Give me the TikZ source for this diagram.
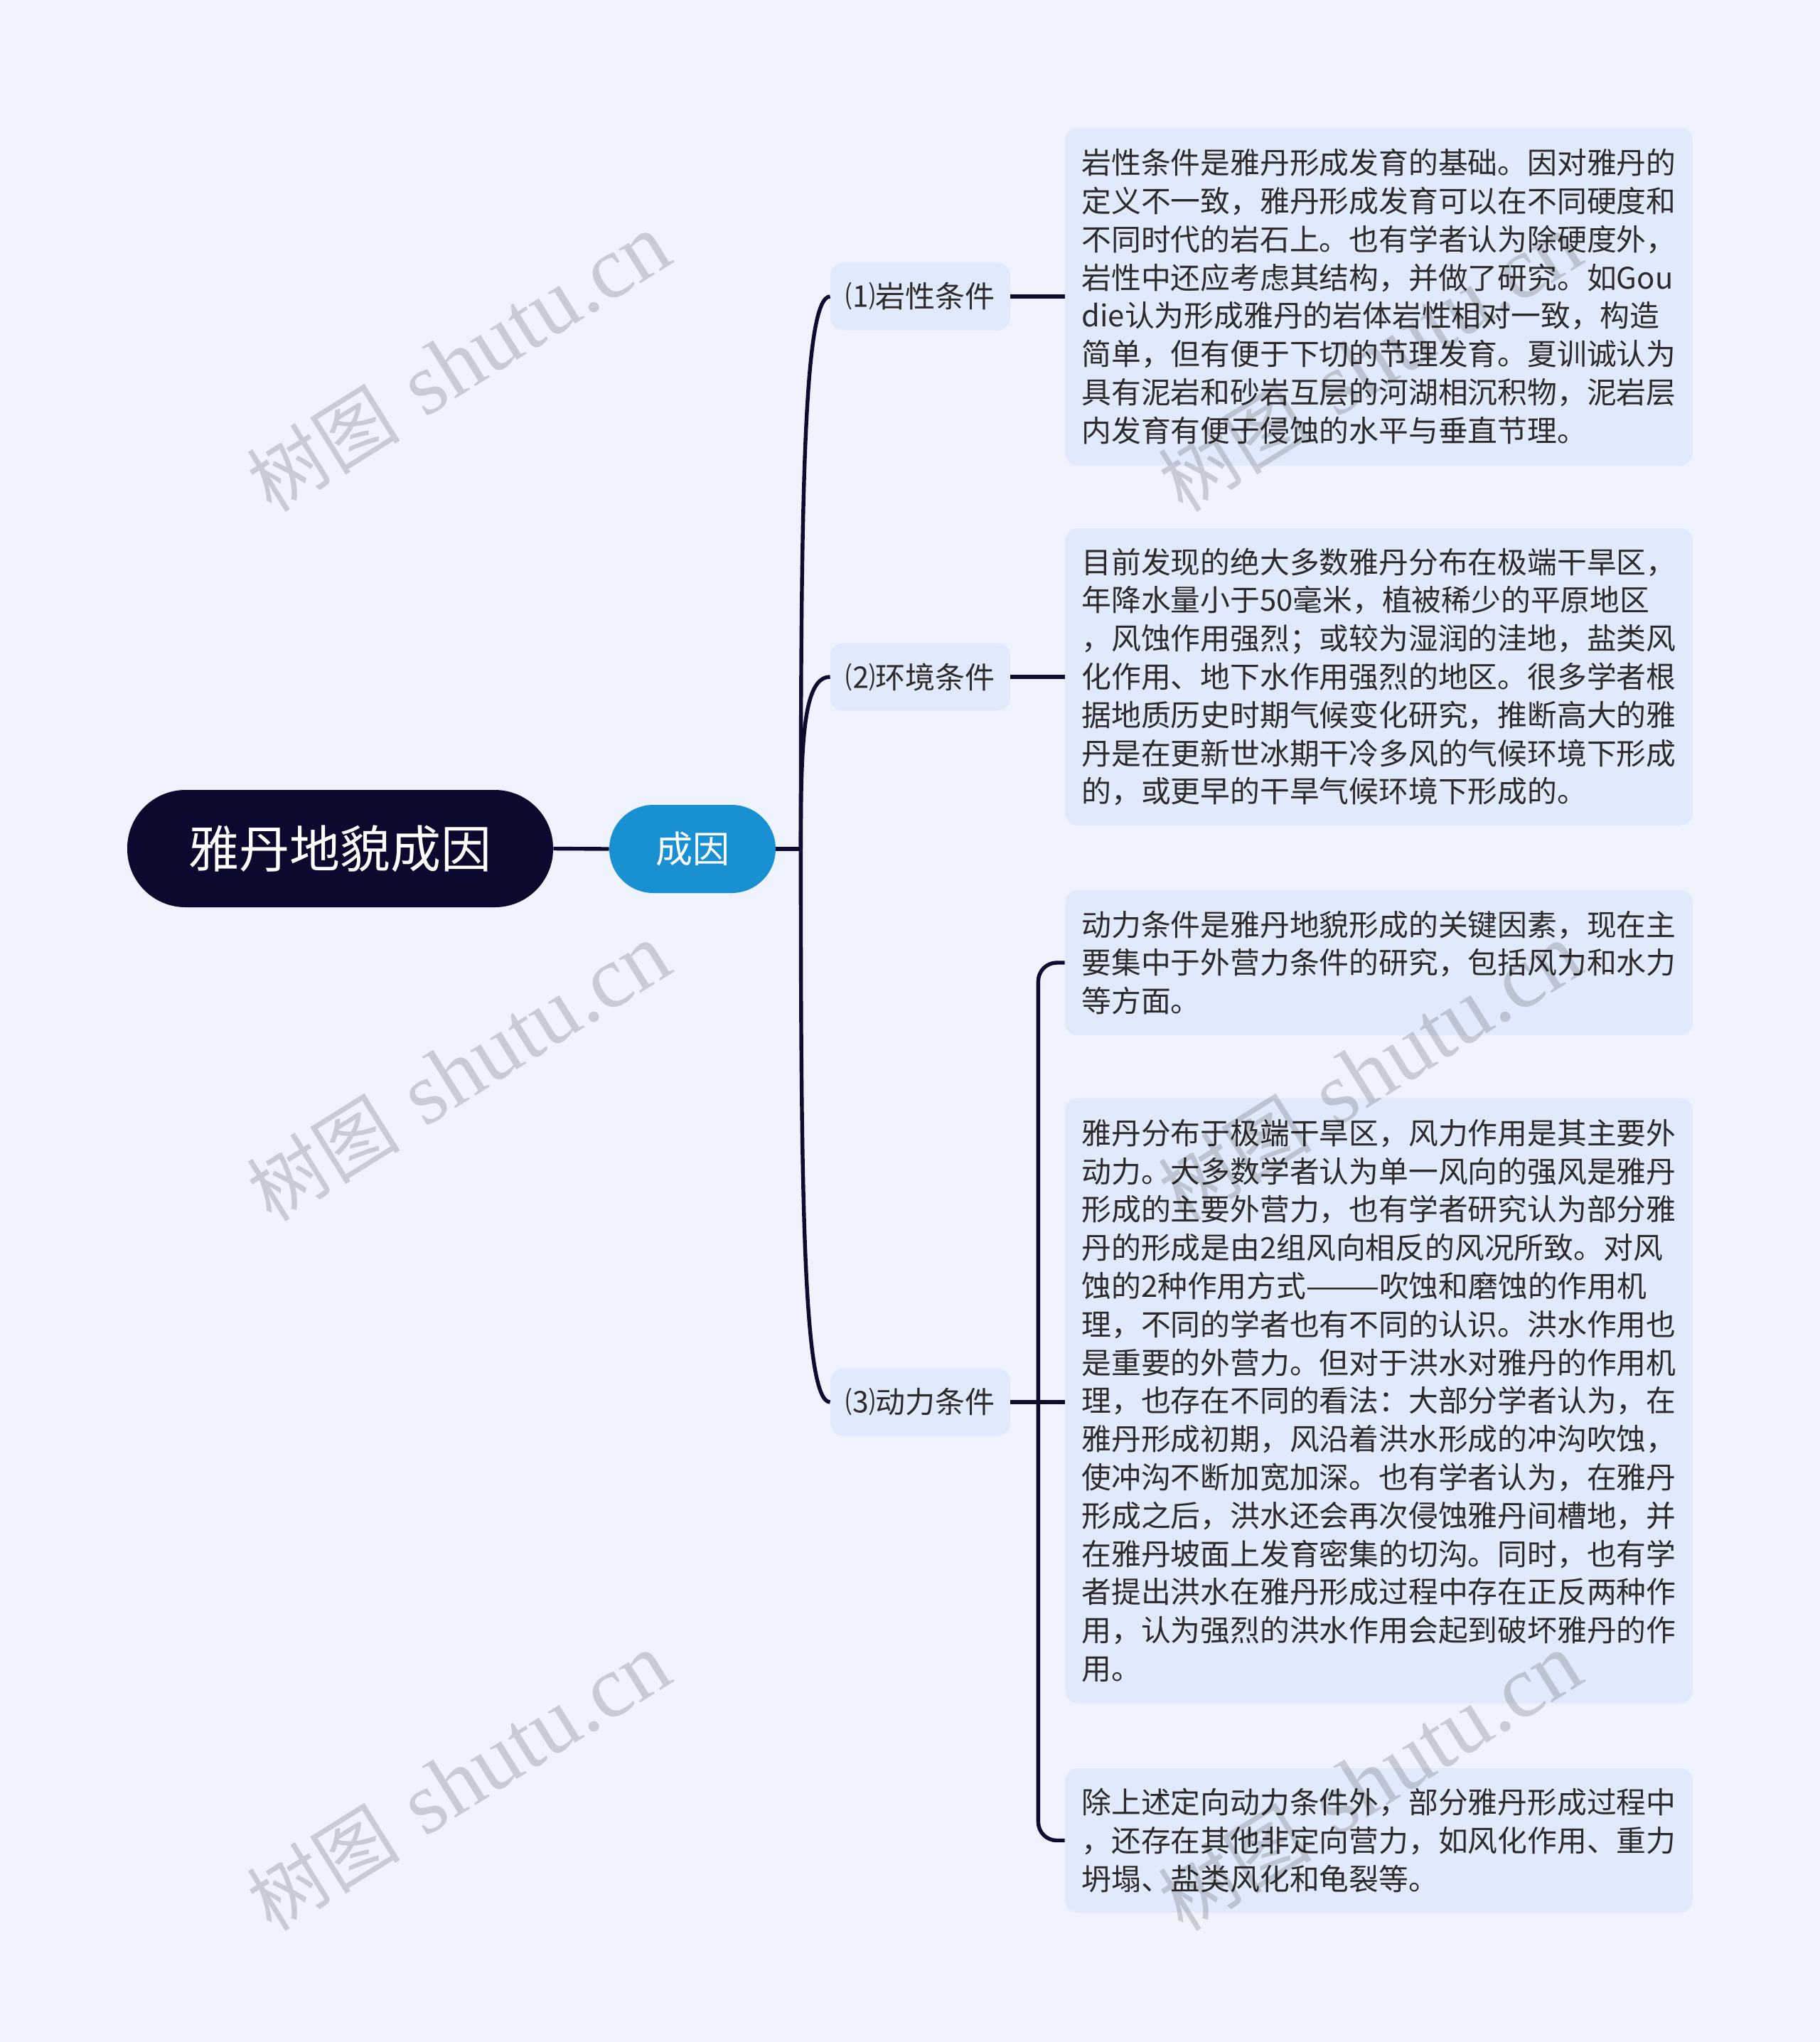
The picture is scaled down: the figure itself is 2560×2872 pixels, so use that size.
\documentclass[tikz,border=0pt]{standalone}
\usepackage{fontspec}
\newfontfamily\cjk{Noto Sans CJK SC}
\newfontfamily\wmserif{Liberation Serif}
\usetikzlibrary{calc}
\definecolor{bgc}{HTML}{EEF3FE}
\definecolor{boxc}{HTML}{E1EAFB}
\definecolor{linec}{HTML}{0E0C2E}
\definecolor{rootc}{HTML}{0B0A2E}
\definecolor{bluec}{HTML}{1890D2}
\definecolor{textc}{HTML}{2B2B2B}
\begin{document}
\begin{tikzpicture}[x=0.5pt,y=-0.5pt,
  rootnode/.style={fill=rootc,text=white,rounded corners=41pt,minimum width=299.5pt,minimum height=82.5pt,inner sep=0pt,font=\cjk\fontsize{35.5}{40}\selectfont},
  midnode/.style={fill=bluec,text=white,rounded corners=31pt,minimum width=117pt,minimum height=62pt,inner sep=0pt,font=\cjk\fontsize{26}{30}\selectfont},
  subnode/.style={fill=boxc,text=textc,rounded corners=9pt,minimum width=126.5pt,minimum height=47.5pt,inner sep=0pt,font=\cjk\fontsize{21}{26}\selectfont},
  leafbox/.style={fill=boxc,text=textc,rounded corners=9pt,minimum width=441.5pt,inner sep=0pt,align=left,font=\cjk\fontsize{20.9}{26.9}\selectfont},
  conn/.style={draw=linec,line width=2.7pt},
  wmark/.style={text=black,text opacity=0.16,rotate=32,inner sep=0pt,font=\fontsize{62}{70}\selectfont}
]
\fill[bgc] (0,0) rectangle (2560,2872);

\node[rootnode] (root) at (478.5,1193.5) {雅丹地貌成因};
\node[midnode] (cy) at (974,1194) {成因};

\node[subnode] (c1) at (1294.5,417) {⑴岩性条件};
\node[subnode] (c2) at (1294.5,952) {⑵环境条件};
\node[subnode] (c3) at (1294.5,1972) {⑶动力条件};

\node[leafbox,minimum height=237.5pt] (b1) at (1939.5,417) {岩性条件是雅丹形成发育的基础。因对雅丹的\\定义不一致，雅丹形成发育可以在不同硬度和\\不同时代的岩石上。也有学者认为除硬度外，\\岩性中还应考虑其结构，并做了研究。如Gou\\die认为形成雅丹的岩体岩性相对一致，构造\\简单，但有便于下切的节理发育。夏训诚认为\\具有泥岩和砂岩互层的河湖相沉积物，泥岩层\\内发育有便于侵蚀的水平与垂直节理。};

\node[leafbox,minimum height=209pt] (b2) at (1939.5,952) {目前发现的绝大多数雅丹分布在极端干旱区，\\年降水量小于50毫米，植被稀少的平原地区\\，风蚀作用强烈；或较为湿润的洼地，盐类风\\化作用、地下水作用强烈的地区。很多学者根\\据地质历史时期气候变化研究，推断高大的雅\\丹是在更新世冰期干冷多风的气候环境下形成\\的，或更早的干旱气候环境下形成的。};

\node[leafbox,minimum height=102pt] (b3a) at (1939.5,1354) {动力条件是雅丹地貌形成的关键因素，现在主\\要集中于外营力条件的研究，包括风力和水力\\等方面。};

\node[leafbox,minimum height=425.5pt] (b3b) at (1939.5,1970) {雅丹分布于极端干旱区，风力作用是其主要外\\动力。大多数学者认为单一风向的强风是雅丹\\形成的主要外营力，也有学者研究认为部分雅\\丹的形成是由2组风向相反的风况所致。对风\\蚀的2种作用方式———吹蚀和磨蚀的作用机\\理，不同的学者也有不同的认识。洪水作用也\\是重要的外营力。但对于洪水对雅丹的作用机\\理，也存在不同的看法：大部分学者认为，在\\雅丹形成初期，风沿着洪水形成的冲沟吹蚀，\\使冲沟不断加宽加深。也有学者认为，在雅丹\\形成之后，洪水还会再次侵蚀雅丹间槽地，并\\在雅丹坡面上发育密集的切沟。同时，也有学\\者提出洪水在雅丹形成过程中存在正反两种作\\用，认为强烈的洪水作用会起到破坏雅丹的作\\用。};

\node[leafbox,minimum height=101.5pt] (b3c) at (1939.5,2588.5) {除上述定向动力条件外，部分雅丹形成过程中\\，还存在其他非定向营力，如风化作用、重力\\坍塌、盐类风化和龟裂等。};

% connectors
\draw[conn] (root.east) -- (cy.west);
\draw[conn] (cy.east) -- ++(35,0) coordinate (hub);
\foreach \c in {c1,c2,c3}{
  \draw[conn] (hub) .. controls ($(hub |- \c.west)!0.36!(hub)$) and ($(hub |- \c.west)+(4,0)$) .. (\c.west);
}
\draw[conn] (c1.east) -- (b1.west);
\draw[conn] (c2.east) -- (b2.west);
\draw[conn] (c3.east) -- ++(39,0) coordinate (hubb);
\draw[conn] (hubb) -- (hubb -| b3b.west);
\draw[conn,rounded corners=13pt] (hubb) |- (b3a.west);
\draw[conn,rounded corners=13pt] (hubb) |- (b3c.west);

% watermarks
\newcommand{\wmtext}{{\cjk\fontsize{54}{60}\selectfont 树图} {\wmserif shutu.cn}}
\node[wmark] (wm1) at (645,510) {\wmtext};
\node[wmark] (wm2) at (645,1508) {\wmtext};
\node[wmark] (wm3) at (645,2506) {\wmtext};
\node[wmark] (wm4) at (1927,510) {\wmtext};
\node[wmark] (wm5) at (1927,1508) {\wmtext};
\node[wmark] (wm6) at (1927,2506) {\wmtext};
\end{tikzpicture}
\end{document}
